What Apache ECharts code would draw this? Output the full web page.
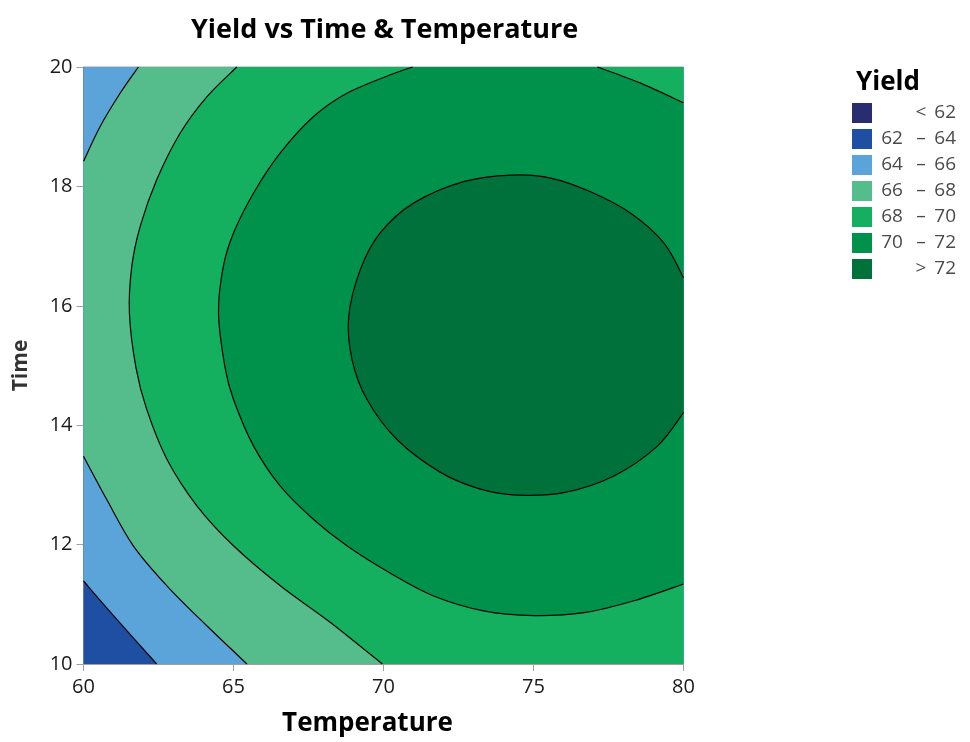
<!DOCTYPE html>
<html>
<head>
<meta charset="utf-8">
<title>Yield vs Time & Temperature</title>
<script src="https://cdn.jsdelivr.net/npm/echarts@6/dist/echarts.min.js"></script>
<style>
    html, body { margin: 0; padding: 0; background: #fff; }
    #chart { width: 970px; height: 742px; }
</style>
</head>
<body>
<div id="chart"></div>
<script>
// axis ranges
const tempRange = [60, 80];
const timeRange = [10, 20];
const tempTicks = [60, 65, 70, 75, 80];
const timeTicks = [10, 12, 14, 16, 18, 20];

// legend bands, low -> high
const bandNames = ['< 62', '62 – 64', '64 – 66', '66 – 68', '68 – 70', '70 – 72', '> 72'];
const bandColors = ['#272d6f', '#1f4fa3', '#5ba4da', '#55bd8c', '#15af60', '#00914b', '#00713a'];

// contour lines, [temperature, time]
const c64 = [[60, 11.39], [61.0, 10.81], [62.44, 10]];
const c66Top = [[61.83, 20], [61.22, 19.56], [60.55, 19.0], [60, 18.42]];
const c66Bottom = [[60, 13.48], [60.77, 12.76], [61.66, 11.98], [62.78, 11.31], [64.11, 10.64], [65.45, 10]];
const c68 = [[65.11, 20], [64.11, 19.50], [63.22, 18.89], [62.44, 18.11], [61.89, 17.33], [61.61, 16.66],
    [61.53, 15.88], [61.75, 14.96], [62.11, 14.26], [62.78, 13.43], [63.78, 12.65], [65.0, 11.98],
    [66.56, 11.31], [68.22, 10.70], [69.96, 10]];
const c70 = [[70.97, 20], [70.23, 19.87], [68.78, 19.56], [67.67, 19.17], [66.56, 18.56], [65.67, 17.89],
    [65.0, 17.22], [64.66, 16.66], [64.50, 15.88], [64.72, 14.96], [65.0, 14.43], [65.67, 13.65],
    [66.56, 12.98], [67.67, 12.42], [68.78, 11.98], [70.23, 11.52], [71.67, 11.14],
    [73.34, 10.89], [75.01, 10.81], [76.68, 10.86], [78.35, 11.06], [80, 11.34]];
const c70Corner = [[77.13, 20], [78.57, 19.73], [80, 19.40]];
const c72 = [[80, 16.47], [79.35, 17.05], [78.24, 17.55], [76.90, 17.91], [75.57, 18.14], [74.27, 18.19],
    [72.67, 18.08], [71.0, 17.72], [69.89, 17.22], [69.23, 16.61], [68.84, 15.82], [68.95, 15.10],
    [69.45, 14.43], [70.45, 13.76], [71.90, 13.21], [73.23, 12.93], [74.45, 12.83], [76.01, 12.87],
    [77.68, 13.15], [79.13, 13.65], [80, 14.21]];

const x0 = tempRange[0], x1 = tempRange[1], y0 = timeRange[0], y1 = timeRange[1];

// area above each level: contour pieces (curves) and plot corners (points)
const regions = [
    null,
    [[x0, y0], [x1, y0], [x1, y1], [x0, y1]],
    [c64, [x1, y0], [x1, y1], [x0, y1]],
    [c66Bottom, [x1, y0], [x1, y1], c66Top],
    [c68, [x1, y0], [x1, y1]],
    [c70, c70Corner.slice().reverse()],
    [c72]
];
const contourLines = [c64, c66Top, c66Bottom, c68, c70, c70Corner, c72];

const font = '"Open Sans", "DejaVu Sans", sans-serif';

// catmull-rom through the read points, as svg path commands
function curveCmds(pts, first) {
    let d = (first ? 'M' : 'L') + pts[0][0] + ' ' + pts[0][1];
    for (let i = 0; i < pts.length - 1; i++) {
        const p0 = pts[i - 1] || pts[i], p1 = pts[i], p2 = pts[i + 1], p3 = pts[i + 2] || p2;
        const c1x = p1[0] + (p2[0] - p0[0]) / 6, c1y = p1[1] + (p2[1] - p0[1]) / 6;
        const c2x = p2[0] - (p3[0] - p1[0]) / 6, c2y = p2[1] - (p3[1] - p1[1]) / 6;
        d += 'C' + c1x + ' ' + c1y + ' ' + c2x + ' ' + c2y + ' ' + p2[0] + ' ' + p2[1];
    }
    return d;
}

function regionPath(parts, api) {
    let d = '';
    parts.forEach((part, k) => {
        if (Array.isArray(part[0])) {
            d += curveCmds(part.map(p => api.coord(p)), k === 0);
        } else {
            const c = api.coord(part);
            d += (k === 0 ? 'M' : 'L') + c[0] + ' ' + c[1];
        }
    });
    return d + 'Z';
}

const bandSeries = bandNames.map((name, i) => ({
    name: name,
    type: 'custom',
    coordinateSystem: 'cartesian2d',
    itemStyle: {color: bandColors[i]},
    silent: true,
    z: 1,
    data: regions[i] ? [[x0, y0]] : [],
    renderItem: function (params, api) {
        return {
            type: 'path',
            shape: {pathData: regionPath(regions[i], api)},
            style: {fill: bandColors[i], stroke: null}
        };
    }
}));

const lineSeries = {
    type: 'custom',
    coordinateSystem: 'cartesian2d',
    silent: true,
    z: 2,
    data: contourLines.map(() => [x0, y0]),
    renderItem: function (params, api) {
        const pts = contourLines[params.dataIndex].map(p => api.coord(p));
        return {
            type: 'path',
            shape: {pathData: curveCmds(pts, true)},
            style: {stroke: '#000', lineWidth: 1.2, fill: null}
        };
    }
};

const chart = echarts.init(document.getElementById('chart'));
chart.setOption({
    animation: false,
    backgroundColor: '#fff',
    title: [
        {
            text: 'Yield vs Time & Temperature',
            left: 186, top: 12,
            textStyle: {fontFamily: font, fontSize: 27, fontWeight: 'bold', color: '#000'}
        },
        {
            text: 'Yield',
            left: 851, top: 65,
            textStyle: {fontFamily: font, fontSize: 26, fontWeight: 'bold', color: '#000'}
        }
    ],
    grid: {
        left: 83.5, right: 286.5, top: 67, bottom: 77,
        show: true, borderColor: '#a0a0a0', borderWidth: 1, backgroundColor: 'transparent'
    },
    legend: {
        orient: 'vertical',
        left: 847, top: 98,
        icon: 'rect',
        itemWidth: 20, itemHeight: 20, itemGap: 6,
        selectedMode: false,
        data: bandNames,
        formatter: function (name) {
            const p = name.split(' ');
            if (p.length === 3) return '{lo|' + p[0] + '}{sep|' + p[1] + '}{hi|' + p[2] + '}';
            return '{lo|}{sep|' + p[0] + '}{hi|' + p[1] + '}';
        },
        textStyle: {
            fontFamily: font, fontSize: 19, color: '#4a4a4a',
            rich: {
                lo: {width: 30, align: 'right', fontFamily: font, fontSize: 19, color: '#4a4a4a'},
                sep: {width: 28, align: 'center', fontFamily: font, fontSize: 19, color: '#4a4a4a'},
                hi: {width: 21, align: 'right', fontFamily: font, fontSize: 19, color: '#4a4a4a'}
            }
        }
    },
    xAxis: {
        type: 'value',
        min: tempRange[0], max: tempRange[1], interval: 5,
        name: 'Temperature',
        nameLocation: 'middle',
        nameGap: 47,
        nameTextStyle: {fontFamily: font, fontSize: 26, fontWeight: 'bold', color: '#000', padding: [0, 32, 0, 0]},
        axisLine: {show: true, lineStyle: {color: '#a0a0a0'}},
        axisTick: {show: true, length: 7, lineStyle: {color: '#a0a0a0'}},
        axisLabel: {
            fontFamily: font, fontSize: 20, color: '#1a1a1a', margin: 13,
            formatter: v => tempTicks.includes(v) ? String(v) : ''
        },
        splitLine: {show: false}
    },
    yAxis: {
        type: 'value',
        min: timeRange[0], max: timeRange[1], interval: 2,
        name: 'Time',
        nameLocation: 'middle',
        nameGap: 52,
        nameTextStyle: {fontFamily: font, fontSize: 21, fontWeight: 'bold', color: '#333'},
        axisLine: {show: true, lineStyle: {color: '#a0a0a0'}},
        axisTick: {show: true, length: 7, lineStyle: {color: '#a0a0a0'}},
        axisLabel: {
            fontFamily: font, fontSize: 20, color: '#1a1a1a', margin: 11,
            formatter: v => timeTicks.includes(v) ? String(v) : ''
        },
        splitLine: {show: false}
    },
    series: bandSeries.concat([lineSeries])
});
</script>
</body>
</html>
